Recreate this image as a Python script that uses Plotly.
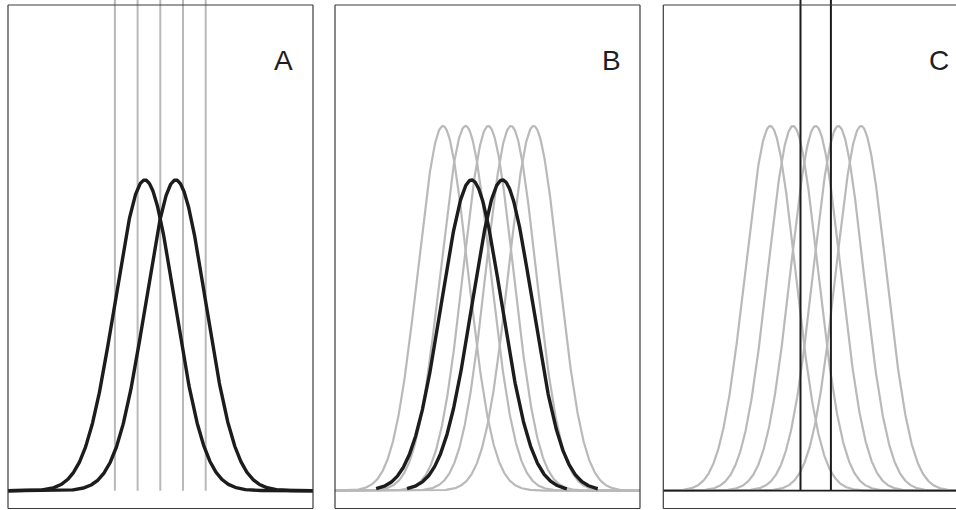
import numpy as np
import plotly.graph_objects as go

# ---- data (stimulus units; gray spacing = 1 unit) ----
panel_labels = ["A", "B", "C"]
gray_centers = [-2.0, -1.0, 0.0, 1.0, 2.0]          # preferred stimuli of the gray units
black_centers_A = [-0.68, 0.68]                      # broad tuning curves, panel A
black_centers_B = [-0.74, 0.62]                      # broad tuning curves, panel B
stimulus_lines_A = gray_centers                      # gray vertical lines, panel A
stimulus_lines_C = [-0.67, 0.67]                     # black vertical lines, panel C
sigma_black = 1.32
sigma_gray = 1.10
peak_black = 0.852
peak_gray = 1.0

W, H = 956, 510
GRAY = "#b9b9bc"
BLACK = "#1c1c1c"
BORDER = "#3a3a3a"

# panel geometry in pixels: (left, right, center)
panels_px = [(8, 313, 160.3), (335, 640, 488.3), (663.3, 969, 815.7)]
unit_px = 22.7
y_base_px, y_unit_px = 490.7, 364.7
y_range = [-(H - y_base_px) / y_unit_px, y_base_px / y_unit_px]

fig = go.Figure()


def gauss(x, c, s, a):
    return a * np.exp(-((x - c) ** 2) / (2 * s ** 2))


axes = []
for i, (l, r, c) in enumerate(panels_px):
    rr = min(r, W)
    xr = [-(c - l) / unit_px, (rr - c) / unit_px]
    axes.append(xr)
    name = "xaxis" if i == 0 else f"xaxis{i+1}"
    fig.layout[name] = dict(domain=[l / W, rr / W], range=xr, visible=False, fixedrange=True)

fig.update_layout(yaxis=dict(domain=[0, 1], range=y_range, visible=False, fixedrange=True))

# Panel A: gray vertical lines, black broad curves over full width
xr = axes[0]
for v in stimulus_lines_A:
    fig.add_trace(go.Scatter(x=[v, v], y=[0, y_range[1]], xaxis="x", yaxis="y", mode="lines",
                             line=dict(color=GRAY, width=2), hoverinfo="skip", showlegend=False))
xs = np.linspace(xr[0], xr[1], 600)
for c in black_centers_A:
    fig.add_trace(go.Scatter(x=xs, y=gauss(xs, c, sigma_black, peak_black), xaxis="x", yaxis="y",
                             mode="lines", line=dict(color=BLACK, width=3.4),
                             hoverinfo="skip", showlegend=False))

# Panel B: gray narrow curves full width, black curves over limited range
xr = axes[1]
xs = np.linspace(xr[0], xr[1], 600)
for c in gray_centers:
    fig.add_trace(go.Scatter(x=xs, y=gauss(xs, c, sigma_gray, peak_gray), xaxis="x2", yaxis="y",
                             mode="lines", line=dict(color=GRAY, width=2.2),
                             hoverinfo="skip", showlegend=False))
for c in black_centers_B:
    xb = np.linspace(c - 4.2, c + 4.2, 400)
    fig.add_trace(go.Scatter(x=xb, y=gauss(xb, c, sigma_black, peak_black), xaxis="x2", yaxis="y",
                             mode="lines", line=dict(color=BLACK, width=3.4),
                             hoverinfo="skip", showlegend=False))

# Panel C: gray curves, black stimulus lines, black baseline
xr = axes[2]
xs = np.linspace(xr[0], xr[1], 600)
for c in gray_centers:
    fig.add_trace(go.Scatter(x=xs, y=gauss(xs, c, sigma_gray, peak_gray), xaxis="x3", yaxis="y",
                             mode="lines", line=dict(color=GRAY, width=2.2),
                             hoverinfo="skip", showlegend=False))
fig.add_trace(go.Scatter(x=[xr[0], xr[1]], y=[0, 0], xaxis="x3", yaxis="y", mode="lines",
                         line=dict(color=BLACK, width=1.8), hoverinfo="skip", showlegend=False))
for v in stimulus_lines_C:
    fig.add_trace(go.Scatter(x=[v, v], y=[0, y_range[1]], xaxis="x3", yaxis="y", mode="lines",
                             line=dict(color=BLACK, width=2), hoverinfo="skip", showlegend=False))

# Borders (paper pixels) and labels
top_px, bot_px = 5, 508.5
shapes = []
annotations = []
label_x_px = [283, 611.5, 939]
for i, (l, r, c) in enumerate(panels_px):
    x0, x1 = l / W, r / W
    y0, y1 = 1 - bot_px / H, 1 - top_px / H
    segs = [(x0, y1, min(x1, 1.2), y1), (x0, y0, min(x1, 1.2), y0), (x0, y0, x0, y1)]
    if r <= W:
        segs.append((x1, y0, x1, y1))
    for (a, b, cc, d) in segs:
        shapes.append(dict(type="line", xref="paper", yref="paper", x0=a, y0=b, x1=cc, y1=d,
                           line=dict(color=BORDER, width=1.2), layer="above"))
    annotations.append(dict(text=panel_labels[i], xref="paper", yref="paper",
                            x=label_x_px[i] / W, y=1 - 60 / H, xanchor="center", yanchor="middle",
                            showarrow=False, font=dict(family="Liberation Sans, Arial", size=28,
                                                       color="#1e1e1e")))

fig.update_layout(width=W, height=H, margin=dict(l=0, r=0, t=0, b=0),
                  paper_bgcolor="white", plot_bgcolor="white",
                  shapes=shapes, annotations=annotations, showlegend=False)

fig.write_html("out.html", config={"displayModeBar": False},
               post_script="document.body.style.margin='0px';document.body.style.overflow='hidden';")
